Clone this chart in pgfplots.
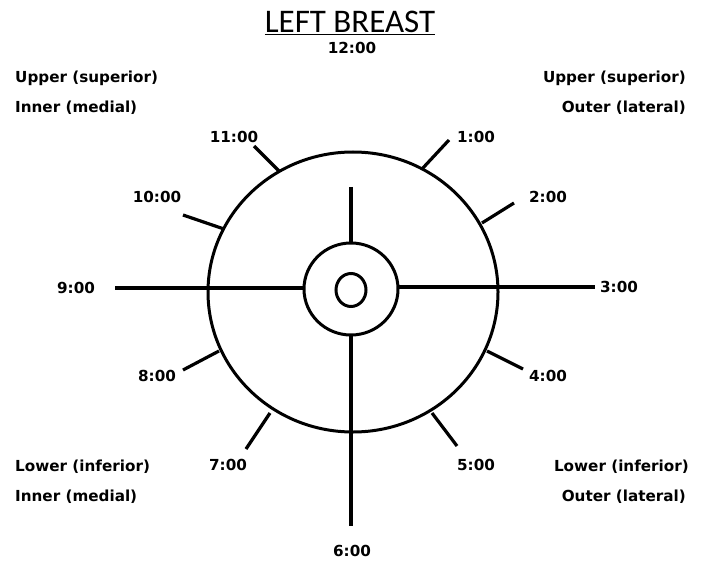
\documentclass[border=0pt]{standalone}
\usepackage{pgfplots}
\pgfplotsset{compat=1.18}
\usepackage{fontspec}
\setmainfont{DejaVu Sans}
\newfontfamily\titlefont{Carlito}
\tikzset{lab/.style={font=\bfseries\fontsize{15.2}{18}\selectfont, inner sep=0pt}}
\begin{document}
\begin{tikzpicture}
\begin{axis}[
  width=701pt, height=564pt, scale only axis,
  xmin=0, xmax=701, ymin=0, ymax=564, y dir=reverse,
  hide axis, clip=false,
]
\path (axis cs:0,0) rectangle (axis cs:701,564);
% cross lines
\addplot[black, line width=3.8pt] coordinates {(351,187) (351,243)};
\addplot[black, line width=3.8pt] coordinates {(351,335) (351,526)};
\addplot[black, line width=3.2pt] coordinates {(115,288) (304,288)};
\addplot[black, line width=3.2pt] coordinates {(398,287) (595,287)};
% clock ticks
\addplot[black, line width=3.2pt] coordinates {(280,172) (254,146)};
\addplot[black, line width=3.2pt] coordinates {(422,169) (449,140)};
\addplot[black, line width=3.2pt] coordinates {(482,223) (514,203)};
\addplot[black, line width=3.2pt] coordinates {(224,229) (183,215)};
\addplot[black, line width=3.2pt] coordinates {(219,351) (183,370)};
\addplot[black, line width=3.2pt] coordinates {(487,351) (523,369)};
\addplot[black, line width=3.2pt] coordinates {(432,413) (457,446)};
\addplot[black, line width=3.2pt] coordinates {(270,413) (246,449)};
% circles
\draw[black, line width=3pt] (axis cs:353,292) ellipse [x radius=145pt, y radius=140pt];
\draw[black, line width=3pt] (axis cs:351,289) ellipse [x radius=47pt, y radius=46pt];
\draw[black, line width=3pt] (axis cs:351,290) ellipse [x radius=15pt, y radius=16.5pt];
% title
\node[font=\titlefont\fontsize{33}{38}\selectfont, inner sep=0pt] at (axis cs:350,23) {\underline{LEFT BREAST}};
% clock labels
\node[lab] at (axis cs:352,48) {12:00};
\node[lab] at (axis cs:476,137) {1:00};
\node[lab] at (axis cs:548,197) {2:00};
\node[lab] at (axis cs:619,287) {3:00};
\node[lab] at (axis cs:548,376) {4:00};
\node[lab] at (axis cs:476,465) {5:00};
\node[lab] at (axis cs:352,551) {6:00};
\node[lab] at (axis cs:228,465) {7:00};
\node[lab] at (axis cs:157,376) {8:00};
\node[lab] at (axis cs:76,288) {9:00};
\node[lab] at (axis cs:157,197) {10:00};
\node[lab] at (axis cs:234,137) {11:00};
% quadrant labels
\node[lab, anchor=west] at (axis cs:15,78) {Upper (superior)};
\node[lab, anchor=west] at (axis cs:15,108) {Inner (medial)};
\node[lab, anchor=east] at (axis cs:686,78) {Upper (superior)};
\node[lab, anchor=east] at (axis cs:686,108) {Outer (lateral)};
\node[lab, anchor=west] at (axis cs:15,467) {Lower (inferior)};
\node[lab, anchor=west] at (axis cs:15,497) {Inner (medial)};
\node[lab, anchor=east] at (axis cs:689,467) {Lower (inferior)};
\node[lab, anchor=east] at (axis cs:686,497) {Outer (lateral)};
\end{axis}
\end{tikzpicture}
\end{document}
